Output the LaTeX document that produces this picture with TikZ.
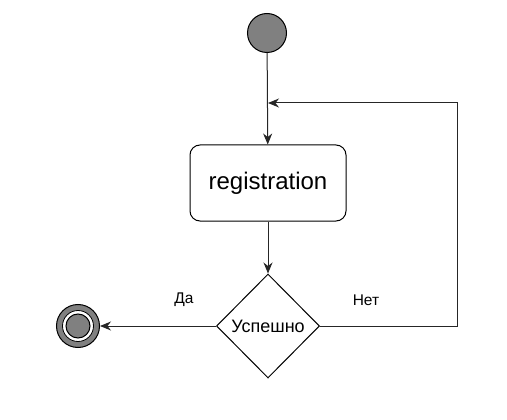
\documentclass[tikz,border=0pt]{standalone}
\usepackage{fontspec}
\setmainfont{Liberation Sans}
\usetikzlibrary{shapes.geometric,arrows.meta}

\tikzset{
  line/.style={draw=black!85, line width=1pt},
  arr/.style={line, -{Stealth[length=11pt,width=9pt,inset=3.5pt]}},
  startnode/.style={circle, draw=black, line width=1pt, fill=black!50, minimum size=39pt, inner sep=0pt},
  stopouter/.style={circle, draw=black, line width=1pt, fill=black!50, minimum size=43pt, inner sep=0pt},
  stopring/.style={circle, draw=black, line width=0.8pt, fill=white, minimum size=31pt, inner sep=0pt},
  stopinner/.style={circle, draw=black, line width=1pt, fill=black!50, minimum size=24pt, inner sep=0pt},
  activity/.style={rectangle, rounded corners=10pt, draw=black, line width=1pt, minimum width=156pt, minimum height=76pt, font=\fontsize{24}{28}\selectfont},
  decision/.style={diamond, draw=black, line width=1pt, minimum width=103pt, minimum height=104pt, inner sep=0pt, font=\fontsize{18}{21}\selectfont},
  lbl/.style={font=\fontsize{15.5}{18}\selectfont}
}

\begin{document}
\begin{tikzpicture}[x=1pt,y=-1pt]
\useasboundingbox (0,0) rectangle (507,420);
%
\node[startnode] (start) at (267,33) {};
\node[activity] (reg) at (268,183) {registration};
\node[decision] (check) at (268,326) {Успешно};
\node[stopouter] (stop) at (78,326) {};
\node[stopring] at (stop) {};
\node[stopinner] at (stop) {};
\coordinate (back) at (268,103);
\coordinate (corner1) at (457,326);
\coordinate (corner2) at (457,103);
%
\draw[arr] (start) -- (reg);
\draw[arr] (reg) -- (check);
\draw[arr] (check) -- (stop);
\draw[arr] (check.east) -- (corner1) -- (corner2) -- (back);
%
\node[lbl] at (184,300) {Да};
\node[lbl] at (366,300) {Нет};
\end{tikzpicture}
\end{document}
